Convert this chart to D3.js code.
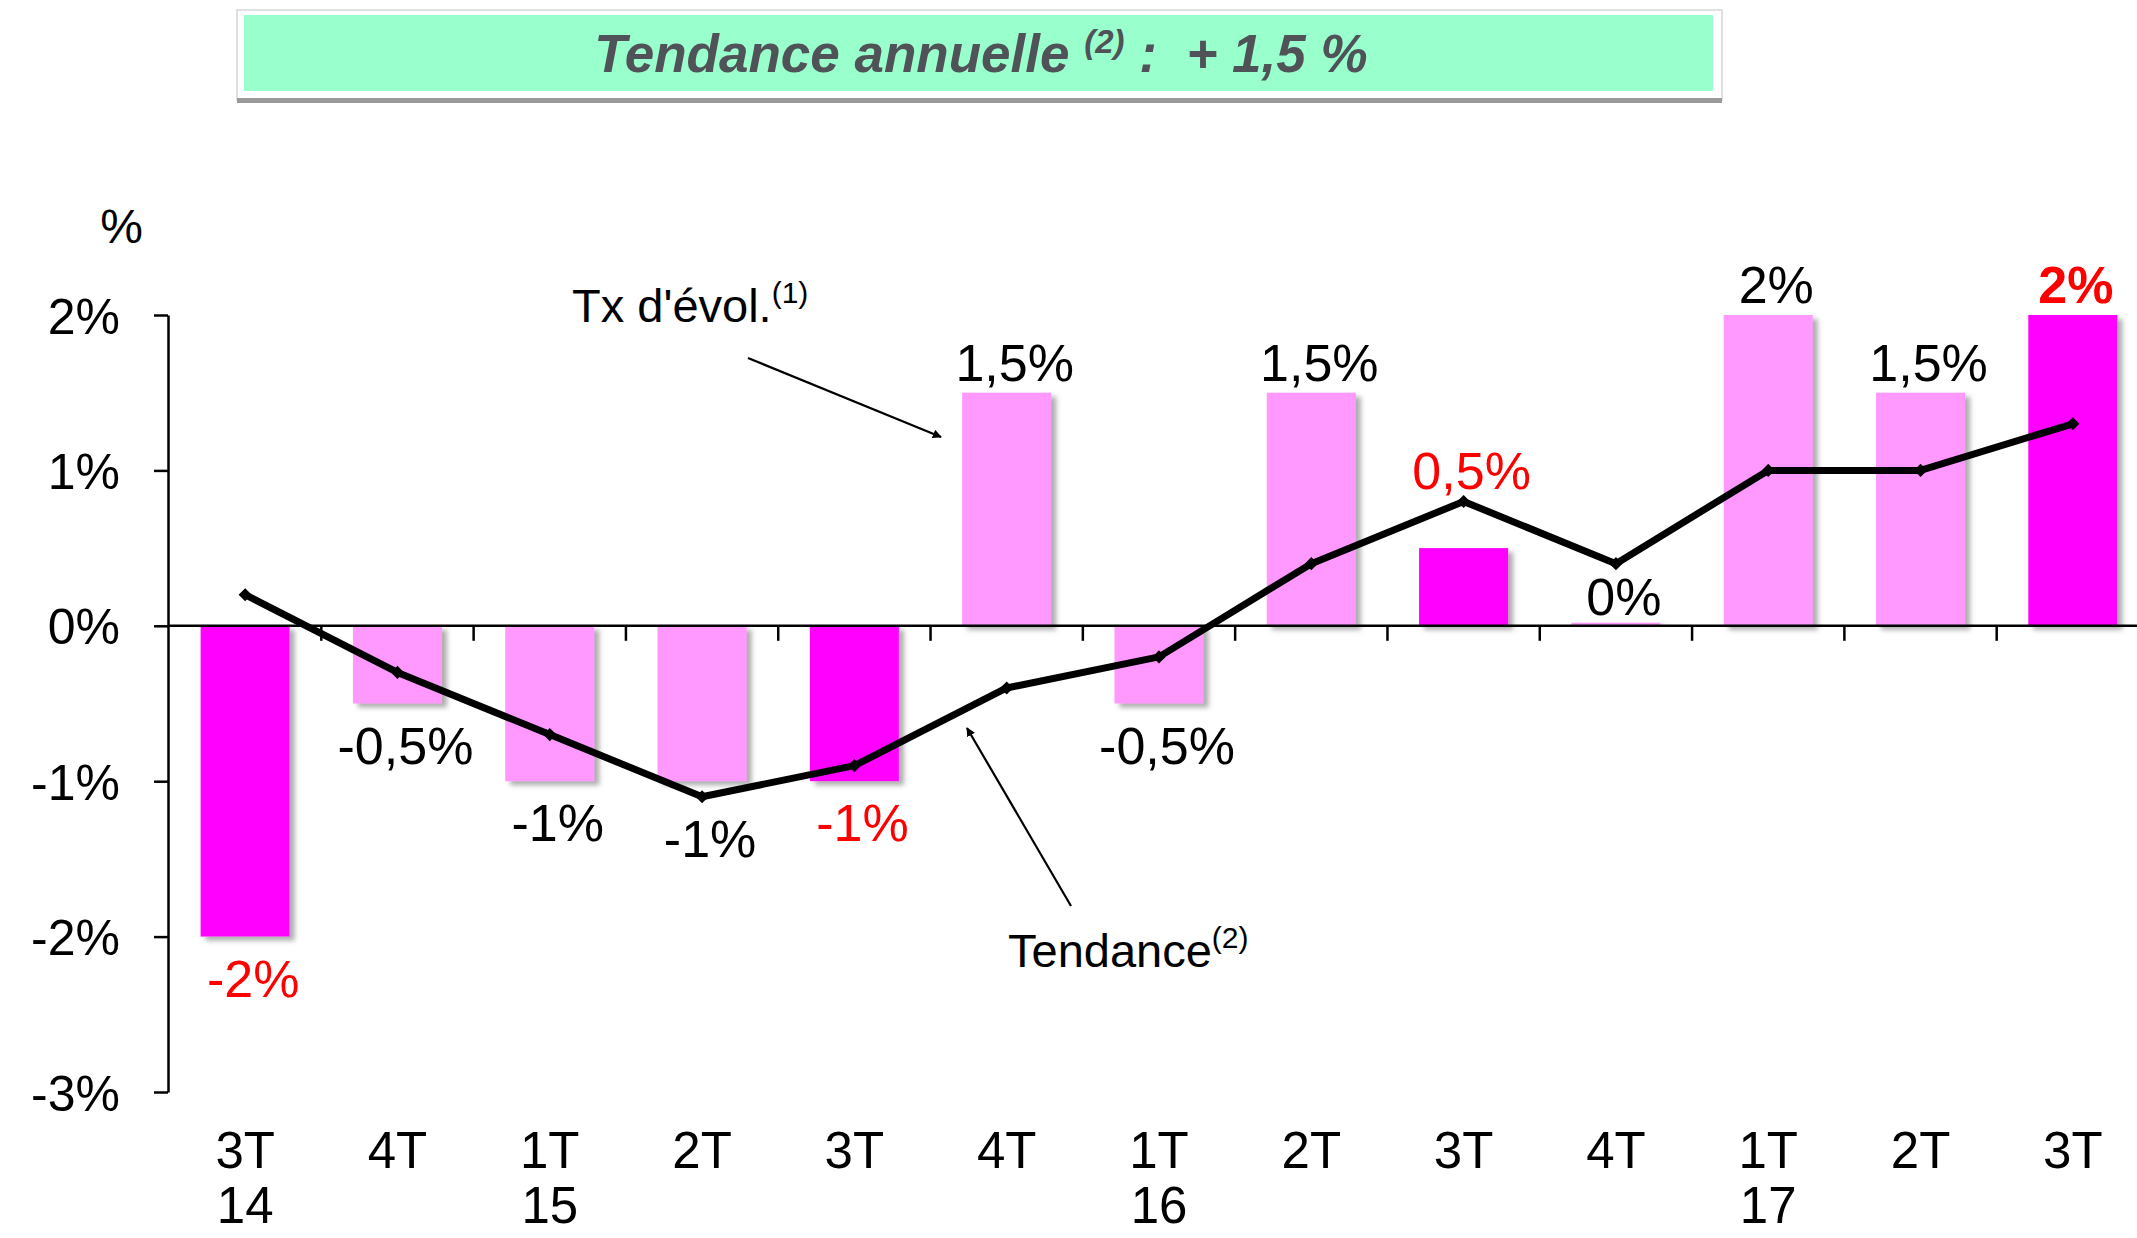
<!DOCTYPE html>
<html>
<head>
<meta charset="utf-8">
<script src="https://cdn.jsdelivr.net/npm/d3@7"></script>
<style>
  body { margin: 0; background: #fff; }
  svg { display: block; font-family: "Liberation Sans", Arial, sans-serif; }
</style>
</head>
<body>
<svg id="canvas" width="2137" height="1238"></svg>
<script>
const quarters = ["3T", "4T", "1T", "2T", "3T", "4T", "1T", "2T", "3T", "4T", "1T", "2T", "3T"];
const years = ["14", "", "15", "", "", "", "16", "", "", "", "17", "", ""];
const evolution = [-2, -0.5, -1, -1, -1, 1.5, -0.5, 1.5, 0.5, 0.02, 2, 1.5, 2];
const evolutionLabels = ["-2%", "-0,5%", "-1%", "-1%", "-1%", "1,5%", "-0,5%", "1,5%", "0,5%", "0%", "2%", "1,5%", "2%"];
const trend = [0.2, -0.3, -0.7, -1.1, -0.9, -0.4, -0.2, 0.4, 0.8, 0.4, 1.0, 1.0, 1.3];
const yTicks = [-3, -2, -1, 0, 1, 2];

const canvas = d3.select("#canvas");

// drop shadow for the bars
const defs = canvas.append("defs");
const shadow = defs.append("filter").attr("id", "shadow")
    .attr("x", "-20%").attr("y", "-20%").attr("width", "150%").attr("height", "150%");
shadow.append("feDropShadow")
    .attr("dx", 5).attr("dy", 4).attr("stdDeviation", 2.5)
    .attr("flood-color", "#777").attr("flood-opacity", 0.6);

defs.append("marker").attr("id", "arrow")
    .attr("viewBox", "0 0 10 10").attr("refX", 9).attr("refY", 5)
    .attr("markerWidth", 9).attr("markerHeight", 9)
    .attr("markerUnits", "userSpaceOnUse").attr("orient", "auto")
    .append("path").attr("d", "M0,0 L10,5 L0,10 Z").attr("fill", "#000");

// header banner
canvas.append("rect").attr("x", 237).attr("y", 10).attr("width", 1485).attr("height", 90)
    .attr("fill", "#fff").attr("stroke", "#d6d6d6").attr("stroke-width", 1.5);
canvas.append("rect").attr("x", 237).attr("y", 98).attr("width", 1485).attr("height", 5).attr("fill", "#9a9a9a");
canvas.append("rect").attr("x", 244).attr("y", 15).attr("width", 1469).attr("height", 76).attr("fill", "#99ffcc");
const title = canvas.append("text").attr("x", 981).attr("y", 72)
    .attr("text-anchor", "middle").attr("font-size", 53).attr("font-weight", "bold")
    .attr("font-style", "italic").attr("fill", "#4f5257").style("white-space", "pre");
title.append("tspan").text("Tendance annuelle ");
title.append("tspan").attr("font-size", 33).attr("dy", -19).text("(2)");
title.append("tspan").attr("dy", 19).text(" :  + 1,5 %");

// scales
const x = d3.scaleBand()
    .domain(d3.range(quarters.length))
    .range([169, 2149])
    .paddingInner(0.415)
    .paddingOuter(0.2075);

const y = d3.scaleLinear().domain([-3, 2]).range([1092, 315]);

// bars
const isMain = (i) => quarters[i] === "3T";
canvas.append("g").selectAll("rect")
    .data(evolution)
    .enter()
    .append("rect")
    .attr("x", (d, i) => x(i))
    .attr("y", (d) => y(Math.max(0, d)))
    .attr("width", x.bandwidth())
    .attr("height", (d) => Math.abs(y(d) - y(0)))
    .attr("fill", (d, i) => isMain(i) ? "#ff00ff" : "#ff99ff")
    .attr("filter", "url(#shadow)");

// y axis
const yAxis = canvas.append("g").attr("transform", "translate(168,0)")
    .call(d3.axisLeft(y).tickValues(yTicks).tickSize(14).tickSizeOuter(0).tickPadding(34)
        .tickFormat((d) => d + "%"));
yAxis.select(".domain").attr("stroke-width", 2.5);
yAxis.selectAll(".tick line").attr("stroke-width", 2.5);
yAxis.selectAll(".tick text").attr("font-size", 50).attr("font-family", "Liberation Sans, Arial, sans-serif")
    .attr("fill", "#000").attr("dy", "0.36em");

canvas.append("text").attr("x", 143).attr("y", 243).attr("text-anchor", "end")
    .attr("font-size", 48).text("%");

// zero line with category ticks
canvas.append("line").attr("x1", 168).attr("x2", 2137).attr("y1", y(0)).attr("y2", y(0))
    .attr("stroke", "#000").attr("stroke-width", 2.5);
canvas.append("g").selectAll("line")
    .data(d3.range(1, quarters.length))
    .enter()
    .append("line")
    .attr("x1", (i) => x(i) - x.step() * x.paddingInner() / 2)
    .attr("x2", (i) => x(i) - x.step() * x.paddingInner() / 2)
    .attr("y1", y(0)).attr("y2", y(0) + 15)
    .attr("stroke", "#000").attr("stroke-width", 2.5);

// category labels
const cat = canvas.append("g").selectAll("text")
    .data(quarters)
    .enter()
    .append("text")
    .attr("x", (d, i) => x(i) + x.bandwidth() / 2)
    .attr("y", 1168)
    .attr("text-anchor", "middle")
    .attr("font-size", 51);
cat.append("tspan").text((d) => d);
cat.append("tspan").attr("x", (d, i) => x(i) + x.bandwidth() / 2).attr("dy", 55)
    .text((d, i) => years[i]);

// trend line
const line = d3.line().x((d, i) => x(i) + x.bandwidth() / 2).y((d) => y(d));
canvas.append("path").datum(trend)
    .attr("d", line).attr("fill", "none")
    .attr("stroke", "#000").attr("stroke-width", 7).attr("stroke-linejoin", "round");
canvas.append("g").selectAll("path")
    .data(trend)
    .enter()
    .append("path")
    .attr("d", d3.symbol(d3.symbolDiamond2, 110))
    .attr("transform", (d, i) => "translate(" + (x(i) + x.bandwidth() / 2) + "," + y(d) + ")")
    .attr("fill", "#000");

// value labels
canvas.append("g").selectAll("text")
    .data(evolution)
    .enter()
    .append("text")
    .attr("x", (d, i) => x(i) + x.bandwidth() / 2 + (i === evolution.length - 1 ? 3 : 8))
    .attr("y", (d, i) => {
        if (d < 0) {
            return Math.max(y(d), y(trend[i])) + 60;
        } else if (d < 0.1) {
            return y(d) - 8;
        }
        return Math.min(y(d), y(trend[i])) - 12;
    })
    .attr("text-anchor", "middle")
    .attr("font-size", 52)
    .attr("font-weight", (d, i) => i === evolution.length - 1 ? "bold" : "normal")
    .attr("fill", (d, i) => isMain(i) ? "#ff0000" : "#000")
    .text((d, i) => evolutionLabels[i]);

// annotations
const tx = canvas.append("text").attr("x", 572).attr("y", 322).attr("font-size", 47);
tx.append("tspan").text("Tx d'évol.");
tx.append("tspan").attr("font-size", 30).attr("dy", -19).text("(1)");
canvas.append("line").attr("x1", 748).attr("y1", 358).attr("x2", 941).attr("y2", 437)
    .attr("stroke", "#000").attr("stroke-width", 2.2).attr("marker-end", "url(#arrow)");

const td = canvas.append("text").attr("x", 1008).attr("y", 967).attr("font-size", 47);
td.append("tspan").text("Tendance");
td.append("tspan").attr("font-size", 30).attr("dy", -19).text("(2)");
canvas.append("line").attr("x1", 1071).attr("y1", 906).attr("x2", 967).attr("y2", 728)
    .attr("stroke", "#000").attr("stroke-width", 2.2).attr("marker-end", "url(#arrow)");
</script>
</body>
</html>
